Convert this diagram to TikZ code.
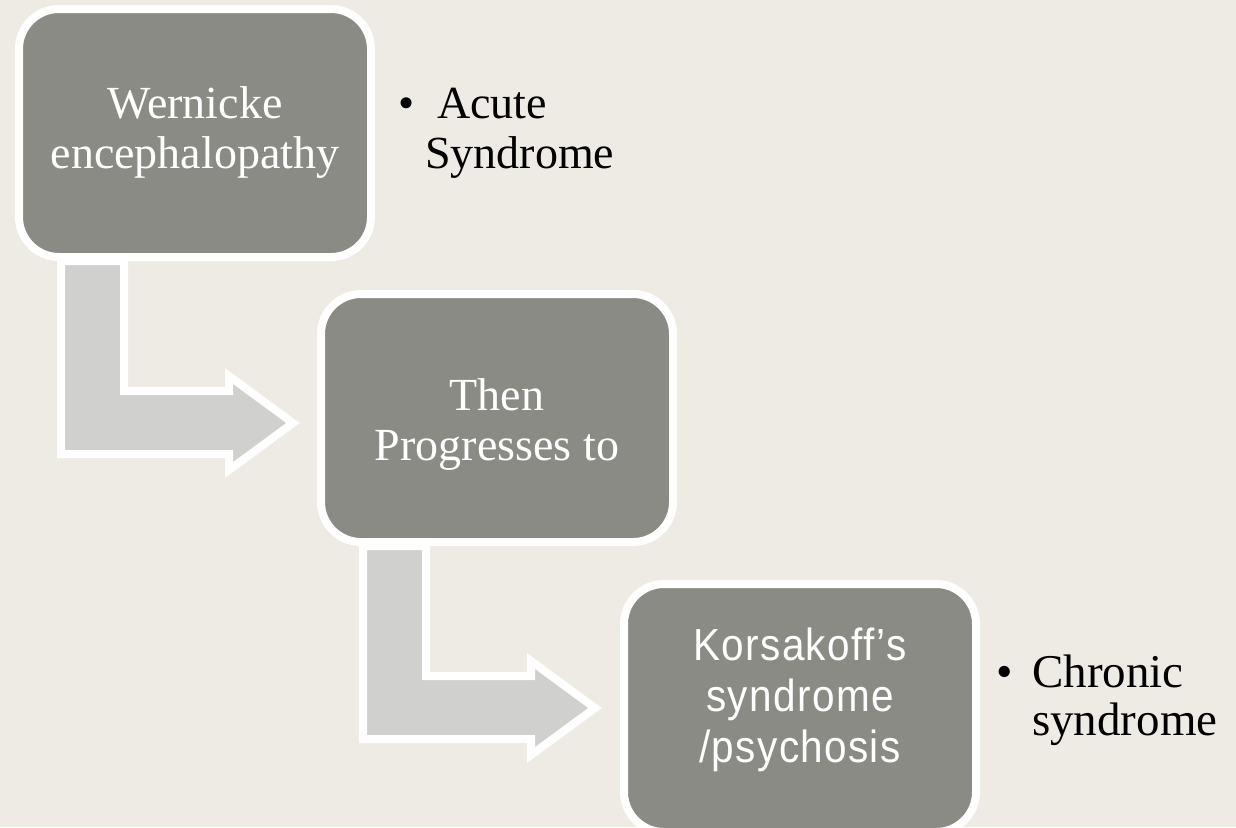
\documentclass[tikz,border=0pt]{standalone}
\usepackage{fontspec}
\setmainfont{Liberation Serif}
\newfontfamily\stagesans[FakeStretch=0.9,LetterSpace=3]{Liberation Sans}
\definecolor{paper}{HTML}{EEEBE4}
\definecolor{stagegray}{HTML}{8B8B85}
\definecolor{flowgray}{HTML}{D0D0CE}
\tikzset{
  stage/.style={draw=white, line width=8pt, fill=stagegray, rounded corners=40pt,
    inner sep=0pt, outer sep=0pt, minimum width=352pt, minimum height=248pt},
  stagetext/.style={text=white, align=center, inner sep=0pt,
    font=\fontsize{46}{50}\selectfont},
  note/.style={text=black, align=left, inner sep=0pt, anchor=west,
    font=\fontsize{46}{50}\selectfont},
  bentarrow/.style={draw=white, line width=8pt, fill=flowgray, miter limit=20}
}
% bent arrow hanging from the south west corner of a box
\newcommand{\bentarrowfrom}[1]{%
  \begin{scope}[shift={(#1.south west)}]
    \path[bentarrow] (42,4) -- (105,4) -- (105,134) -- (210,134) -- (210,119)
      -- (274,166) -- (210,213) -- (210,197) -- (42,197) -- cycle;
  \end{scope}}
\begin{document}
\begin{tikzpicture}[x=1pt,y=-1pt]
  \fill[paper] (0,0) rectangle (1236,827);
  \useasboundingbox (0,0) rectangle (1236,827);

  % the boxes are placed first so the arrows can hang from them,
  % then drawn again over the arrow stems
  \path (195,133) node[stage, draw=none, fill=none] (wernicke) {};
  \path (497,418) node[stage, draw=none, fill=none] (progress) {};
  \bentarrowfrom{wernicke}
  \bentarrowfrom{progress}

  \node[stage] (wernickebox) at (wernicke) {};
  \node[stage] (progressbox) at (progress) {};
  \node[stage] (korsakoff) at (800,708) {};

  \node[stagetext] (wernickelabel) at (wernicke) {Wernicke\\encephalopathy};
  \node[stagetext] (progresslabel) at ([yshift=-6pt]progress.center) {Then\\Progresses to};
  \node[stagetext, font=\stagesans\fontsize{45}{51}\selectfont] (korsakofflabel)
    at ([yshift=8pt]korsakoff.center) {Korsakoff’s\\syndrome\\/psychosis};

  \node[note] (acute) at (398,133)
    {\makebox[27pt][l]{•}\hspace{12pt}Acute\\\hspace{27pt}Syndrome};
  \node[note, font=\fontsize{47}{48}\selectfont] (chronic) at (996,700)
    {\makebox[36pt][l]{•}Chronic\\\hspace{36pt}syndrome};
\end{tikzpicture}
\end{document}
